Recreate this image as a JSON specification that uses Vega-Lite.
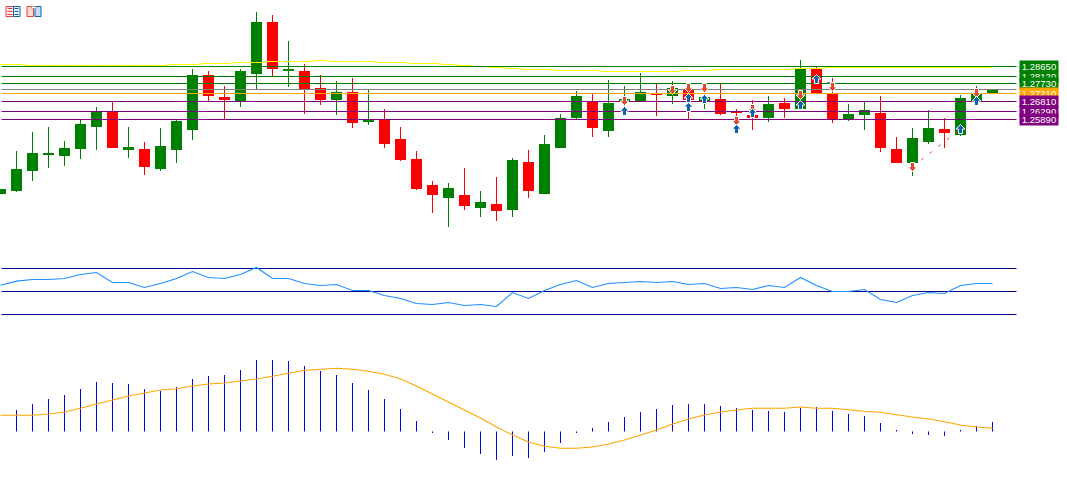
{
"$schema":"https://vega.github.io/schema/vega-lite/v6.json",
"padding":0,"background":"white","spacing":0,
"config":{"view":{"stroke":null},"concat":{"spacing":0}},
"datasets":{
"candles":[
{"n":0,"open":1.2202,"high":1.2228,"low":1.2202,"close":1.2228,"dir":"up","ma":1.28754},
{"n":1,"open":1.22176,"high":1.24256,"low":1.22124,"close":1.2332,"dir":"up","ma":1.28754},
{"n":2,"open":1.23216,"high":1.25244,"low":1.22696,"close":1.24152,"dir":"up","ma":1.28702},
{"n":3,"open":1.24048,"high":1.25504,"low":1.23372,"close":1.24152,"dir":"up","ma":1.28702},
{"n":4,"open":1.23996,"high":1.24776,"low":1.23476,"close":1.24412,"dir":"up","ma":1.28702},
{"n":5,"open":1.2436,"high":1.25868,"low":1.2384,"close":1.2566,"dir":"up","ma":1.28702},
{"n":6,"open":1.25504,"high":1.26544,"low":1.24308,"close":1.26284,"dir":"up","ma":1.28702},
{"n":7,"open":1.26284,"high":1.26856,"low":1.24412,"close":1.24412,"dir":"down","ma":1.28702},
{"n":8,"open":1.24308,"high":1.25504,"low":1.23892,"close":1.24464,"dir":"up","ma":1.28702},
{"n":9,"open":1.2436,"high":1.24724,"low":1.23008,"close":1.23424,"dir":"down","ma":1.28702},
{"n":10,"open":1.2332,"high":1.25452,"low":1.23216,"close":1.24516,"dir":"up","ma":1.28702},
{"n":11,"open":1.24308,"high":1.25868,"low":1.23632,"close":1.25816,"dir":"up","ma":1.28754},
{"n":12,"open":1.25348,"high":1.2852,"low":1.24828,"close":1.28208,"dir":"up","ma":1.28754},
{"n":13,"open":1.28208,"high":1.28416,"low":1.26856,"close":1.27116,"dir":"down","ma":1.28806},
{"n":14,"open":1.27064,"high":1.27636,"low":1.2592,"close":1.26908,"dir":"down","ma":1.28806},
{"n":15,"open":1.26856,"high":1.2852,"low":1.26544,"close":1.28416,"dir":"up","ma":1.28858},
{"n":16,"open":1.2826,"high":1.31484,"low":1.2748,"close":1.30964,"dir":"up","ma":1.28858},
{"n":17,"open":1.30964,"high":1.31328,"low":1.28156,"close":1.2852,"dir":"down","ma":1.2891},
{"n":18,"open":1.28416,"high":1.29976,"low":1.27584,"close":1.2852,"dir":"up","ma":1.2891},
{"n":19,"open":1.28416,"high":1.2878,"low":1.2618,"close":1.27428,"dir":"down","ma":1.2891},
{"n":20,"open":1.27532,"high":1.28208,"low":1.26648,"close":1.26908,"dir":"down","ma":1.28962},
{"n":21,"open":1.26908,"high":1.27896,"low":1.26128,"close":1.27324,"dir":"up","ma":1.2891},
{"n":22,"open":1.27324,"high":1.28052,"low":1.25452,"close":1.25712,"dir":"down","ma":1.2891},
{"n":23,"open":1.25764,"high":1.2748,"low":1.25608,"close":1.25868,"dir":"up","ma":1.2891},
{"n":24,"open":1.25868,"high":1.2644,"low":1.24412,"close":1.2462,"dir":"down","ma":1.28858},
{"n":25,"open":1.2488,"high":1.25504,"low":1.23736,"close":1.23788,"dir":"down","ma":1.28858},
{"n":26,"open":1.2384,"high":1.24256,"low":1.22228,"close":1.2228,"dir":"down","ma":1.28806},
{"n":27,"open":1.22488,"high":1.22696,"low":1.21032,"close":1.21968,"dir":"down","ma":1.28806},
{"n":28,"open":1.21812,"high":1.22592,"low":1.20304,"close":1.22332,"dir":"up","ma":1.28754},
{"n":29,"open":1.21968,"high":1.23372,"low":1.21188,"close":1.21396,"dir":"down","ma":1.28702},
{"n":30,"open":1.21292,"high":1.22176,"low":1.20824,"close":1.21604,"dir":"up","ma":1.2865},
{"n":31,"open":1.215,"high":1.22904,"low":1.20616,"close":1.21136,"dir":"down","ma":1.28598},
{"n":32,"open":1.21188,"high":1.23892,"low":1.20824,"close":1.23788,"dir":"up","ma":1.28546},
{"n":33,"open":1.23684,"high":1.24308,"low":1.21812,"close":1.22176,"dir":"down","ma":1.28494},
{"n":34,"open":1.2202,"high":1.25088,"low":1.2202,"close":1.2462,"dir":"up","ma":1.28494},
{"n":35,"open":1.24412,"high":1.2618,"low":1.24412,"close":1.25972,"dir":"up","ma":1.28442},
{"n":36,"open":1.25972,"high":1.27376,"low":1.2592,"close":1.27116,"dir":"up","ma":1.28442},
{"n":37,"open":1.26856,"high":1.2722,"low":1.24984,"close":1.25452,"dir":"down","ma":1.28442},
{"n":38,"open":1.25296,"high":1.27948,"low":1.24984,"close":1.26752,"dir":"up","ma":1.2839},
{"n":39,"open":1.26856,"high":1.27636,"low":1.26076,"close":1.2696,"dir":"up","ma":1.2839},
{"n":40,"open":1.26856,"high":1.28312,"low":1.26856,"close":1.27324,"dir":"up","ma":1.2839},
{"n":41,"open":1.2722,"high":1.2774,"low":1.26076,"close":1.27168,"dir":"down","ma":1.2839},
{"n":42,"open":1.27116,"high":1.27896,"low":1.267,"close":1.27532,"dir":"up","ma":1.2839},
{"n":43,"open":1.27428,"high":1.27688,"low":1.2592,"close":1.26908,"dir":"down","ma":1.28442},
{"n":44,"open":1.26856,"high":1.27792,"low":1.2644,"close":1.27064,"dir":"up","ma":1.28442},
{"n":45,"open":1.2696,"high":1.2774,"low":1.26128,"close":1.2618,"dir":"down","ma":1.28494},
{"n":46,"open":1.26336,"high":1.2644,"low":1.2566,"close":1.26232,"dir":"down","ma":1.28494},
{"n":47,"open":1.26128,"high":1.26908,"low":1.25348,"close":1.25972,"dir":"down","ma":1.28494},
{"n":48,"open":1.25972,"high":1.27116,"low":1.25764,"close":1.267,"dir":"up","ma":1.28494},
{"n":49,"open":1.26752,"high":1.27012,"low":1.25972,"close":1.2644,"dir":"down","ma":1.28494},
{"n":50,"open":1.2644,"high":1.28988,"low":1.2644,"close":1.2852,"dir":"up","ma":1.28546},
{"n":51,"open":1.2852,"high":1.28624,"low":1.27272,"close":1.27272,"dir":"down","ma":1.28546},
{"n":52,"open":1.2722,"high":1.28052,"low":1.25712,"close":1.2592,"dir":"down","ma":1.28598},
{"n":53,"open":1.2592,"high":1.267,"low":1.25816,"close":1.2618,"dir":"up","ma":1.28598},
{"n":54,"open":1.26128,"high":1.26804,"low":1.25348,"close":1.26388,"dir":"up","ma":1.28598},
{"n":55,"open":1.26232,"high":1.27116,"low":1.24204,"close":1.24412,"dir":"down","ma":1.28598},
{"n":56,"open":1.2436,"high":1.24984,"low":1.23632,"close":1.23632,"dir":"down","ma":1.28598},
{"n":57,"open":1.23632,"high":1.25452,"low":1.22956,"close":1.24932,"dir":"up","ma":1.28598},
{"n":58,"open":1.24724,"high":1.26388,"low":1.2462,"close":1.25452,"dir":"up","ma":1.28598},
{"n":59,"open":1.254,"high":1.25972,"low":1.24412,"close":1.25192,"dir":"down","ma":1.28598},
{"n":60,"open":1.25088,"high":1.27168,"low":1.25036,"close":1.27012,"dir":"up","ma":1.28598},
{"n":61,"open":1.26856,"high":1.27636,"low":1.26856,"close":1.27272,"dir":"up","ma":1.28598},
{"n":62,"open":1.27272,"high":1.2748,"low":1.27272,"close":1.2748,"dir":"up","ma":1.28598}
],
"levels":[
{"p":1.2865,"label":"1.28650","kind":"res"},
{"p":1.2813,"label":"1.28120","kind":"res"},
{"p":1.27766,"label":"1.27730","kind":"res"},
{"p":1.27454,"label":"","kind":"mid"},
{"p":1.27246,"label":"1.27210","kind":"pivot"},
{"p":1.2683,"label":"1.26810","kind":"sup"},
{"p":1.2631,"label":"1.26290","kind":"sup"},
{"p":1.25894,"label":"1.25890","kind":"sup"}
],
"signals":[
{"n":39,"p":1.26856,"side":"sell"},{"n":42,"p":1.27428,"side":"sell"},{"n":43,"p":1.27532,"side":"sell"},{"n":44,"p":1.27532,"side":"sell"},{"n":46,"p":1.25816,"side":"sell"},{"n":47,"p":1.2644,"side":"sell"},{"n":50,"p":1.27168,"side":"sell"},{"n":52,"p":1.27584,"side":"sell"},{"n":57,"p":1.23424,"side":"sell"},{"n":61,"p":1.27272,"side":"sell"},
{"n":39,"p":1.26336,"side":"buy"},{"n":43,"p":1.27012,"side":"buy"},{"n":43,"p":1.26544,"side":"buy"},{"n":44,"p":1.2696,"side":"buy"},{"n":46,"p":1.254,"side":"buy"},{"n":47,"p":1.26232,"side":"buy"},{"n":50,"p":1.26648,"side":"buy"},{"n":51,"p":1.28,"side":"buy"},{"n":60,"p":1.254,"side":"buy"},{"n":61,"p":1.26856,"side":"buy"}
],
"trend":[
{"n":57,"p":1.23424,"id":"sell"},{"n":60,"p":1.254,"id":"sell"},
{"n":51,"p":1.28,"id":"buy"},{"n":52,"p":1.2774,"id":"buy"}
],
"icons":[
{"n":0.344,"n2":0.8125,"p":1.31770,"p2":1.31250,"part":"red"},
{"n":0.8125,"n2":1.219,"p":1.31770,"p2":1.31250,"part":"blue"},
{"n":1.656,"n2":2.0625,"p":1.31770,"p2":1.31250,"part":"redfill"},
{"n":2.156,"n2":2.531,"p":1.31770,"p2":1.31250,"part":"bluefill"},
{"n":1.9375,"n2":2.22,"p":1.31770,"p2":1.31666,"part":"grey"}
],
"iconLines":[
{"n":0.4375,"n2":0.75,"p":1.31666,"side":"red"},{"n":0.4375,"n2":0.75,"p":1.31510,"side":"red"},{"n":0.4375,"n2":0.75,"p":1.31354,"side":"red"},
{"n":0.875,"n2":1.125,"p":1.31666,"side":"blue"},{"n":0.875,"n2":1.125,"p":1.31510,"side":"blue"},{"n":0.875,"n2":1.125,"p":1.31354,"side":"blue"}
],
"rsi":[
{"n":0,"v":55.5},{"n":1,"v":59.0},{"n":2,"v":60.4},{"n":3,"v":60.4},{"n":4,"v":61.3},{"n":5,"v":64.8},{"n":6,"v":66.5},{"n":7,"v":57.8},{"n":8,"v":57.8},{"n":9,"v":53.5},{"n":10,"v":57.0},{"n":11,"v":61.3},{"n":12,"v":67.4},{"n":13,"v":62.2},{"n":14,"v":61.3},{"n":15,"v":64.8},{"n":16,"v":70.9},{"n":17,"v":61.3},{"n":18,"v":61.3},{"n":19,"v":57.0},{"n":20,"v":55.2},{"n":21,"v":56.1},{"n":22,"v":50.9},{"n":23,"v":50.9},{"n":24,"v":46.5},{"n":25,"v":43.9},{"n":26,"v":39.6},{"n":27,"v":38.7},{"n":28,"v":40.4},{"n":29,"v":37.8},{"n":30,"v":38.7},{"n":31,"v":37.0},{"n":32,"v":49.1},{"n":33,"v":43.9},{"n":34,"v":50.9},{"n":35,"v":56.1},{"n":36,"v":59.6},{"n":37,"v":53.5},{"n":38,"v":57.0},{"n":39,"v":57.8},{"n":40,"v":58.7},{"n":41,"v":57.8},{"n":42,"v":58.7},{"n":43,"v":56.1},{"n":44,"v":57.0},{"n":45,"v":52.6},{"n":46,"v":53.5},{"n":47,"v":51.7},{"n":48,"v":55.2},{"n":49,"v":53.5},{"n":50,"v":62.2},{"n":51,"v":55.2},{"n":52,"v":50},{"n":53,"v":50},{"n":54,"v":51.7},{"n":55,"v":43.0},{"n":56,"v":40.4},{"n":57,"v":46.5},{"n":58,"v":49.1},{"n":59,"v":48.3},{"n":60,"v":55.2},{"n":61,"v":57.0},{"n":62,"v":57.0}
],
"rsiLevels":[{"v":70},{"v":50},{"v":30}],
"macd":[
{"n":1,"hist":0.00215},{"n":2,"hist":0.00275},{"n":3,"hist":0.00325},{"n":4,"hist":0.00365},{"n":5,"hist":0.00425},{"n":6,"hist":0.00495},{"n":7,"hist":0.00485},{"n":8,"hist":0.00475},{"n":9,"hist":0.00425},{"n":10,"hist":0.00405},{"n":11,"hist":0.00445},{"n":12,"hist":0.00525},{"n":13,"hist":0.00555},{"n":14,"hist":0.00565},{"n":15,"hist":0.00615},{"n":16,"hist":0.00715},{"n":17,"hist":0.00715},{"n":18,"hist":0.00705},{"n":19,"hist":0.00655},{"n":20,"hist":0.00605},{"n":21,"hist":0.00565},{"n":22,"hist":0.00485},{"n":23,"hist":0.00415},{"n":24,"hist":0.00325},{"n":25,"hist":0.00225},{"n":26,"hist":0.00105},{"n":27,"hist":-0.00015},{"n":28,"hist":-0.00085},{"n":29,"hist":-0.00165},{"n":30,"hist":-0.00225},{"n":31,"hist":-0.00285},{"n":32,"hist":-0.00245},{"n":33,"hist":-0.00265},{"n":34,"hist":-0.00205},{"n":35,"hist":-0.00115},{"n":36,"hist":-0.00015},{"n":37,"hist":0.00035},{"n":38,"hist":0.00095},{"n":39,"hist":0.00145},{"n":40,"hist":0.00195},{"n":41,"hist":0.00225},{"n":42,"hist":0.00265},{"n":43,"hist":0.00275},{"n":44,"hist":0.00275},{"n":45,"hist":0.00255},{"n":46,"hist":0.00235},{"n":47,"hist":0.00215},{"n":48,"hist":0.00205},{"n":49,"hist":0.00195},{"n":50,"hist":0.00235},{"n":51,"hist":0.00245},{"n":52,"hist":0.00205},{"n":53,"hist":0.00175},{"n":54,"hist":0.00155},{"n":55,"hist":0.00085},{"n":56,"hist":0.00015},{"n":57,"hist":-0.00025},{"n":58,"hist":-0.00035},{"n":59,"hist":-0.00045},{"n":60,"hist":0.00015},{"n":61,"hist":0.00055},{"n":62,"hist":0.00095}
],
"signalLine":[
{"n":0,"sig":0.00162},{"n":1,"sig":0.00162},{"n":2,"sig":0.00162},{"n":3,"sig":0.00175},{"n":4,"sig":0.00195},{"n":5,"sig":0.00232},{"n":6,"sig":0.00275},{"n":7,"sig":0.00315},{"n":8,"sig":0.00355},{"n":9,"sig":0.00385},{"n":10,"sig":0.00415},{"n":11,"sig":0.00428},{"n":12,"sig":0.00455},{"n":13,"sig":0.00475},{"n":14,"sig":0.00485},{"n":15,"sig":0.00505},{"n":16,"sig":0.00525},{"n":17,"sig":0.00552},{"n":18,"sig":0.00582},{"n":19,"sig":0.00612},{"n":20,"sig":0.00622},{"n":21,"sig":0.00632},{"n":22,"sig":0.00622},{"n":23,"sig":0.00602},{"n":24,"sig":0.00572},{"n":25,"sig":0.00525},{"n":26,"sig":0.00455},{"n":27,"sig":0.00375},{"n":28,"sig":0.00295},{"n":29,"sig":0.00215},{"n":30,"sig":0.00135},{"n":31,"sig":0.00045},{"n":32,"sig":-0.00035},{"n":33,"sig":-0.00105},{"n":34,"sig":-0.00148},{"n":35,"sig":-0.00168},{"n":36,"sig":-0.00168},{"n":37,"sig":-0.00155},{"n":38,"sig":-0.00125},{"n":39,"sig":-0.00085},{"n":40,"sig":-0.00035},{"n":41,"sig":0.00015},{"n":42,"sig":0.00075},{"n":43,"sig":0.00125},{"n":44,"sig":0.00165},{"n":45,"sig":0.00195},{"n":46,"sig":0.00215},{"n":47,"sig":0.00232},{"n":48,"sig":0.00232},{"n":49,"sig":0.00232},{"n":50,"sig":0.00245},{"n":51,"sig":0.00232},{"n":52,"sig":0.00232},{"n":53,"sig":0.00218},{"n":54,"sig":0.00202},{"n":55,"sig":0.00192},{"n":56,"sig":0.00168},{"n":57,"sig":0.00145},{"n":58,"sig":0.00125},{"n":59,"sig":0.00098},{"n":60,"sig":0.00065},{"n":61,"sig":0.00045},{"n":62,"sig":0.00032}
]
},
"vconcat":[
{"width":1067,"height":260,
 "resolve":{"scale":{"color":"independent"}},
 "encoding":{
  "y":{"field":"p","type":"quantitative","scale":{"domain":[1.18588,1.32108],"nice":false,"zero":false},"axis":null}
 },
 "layer":[
  {"data":{"name":"candles"},"mark":{"type":"rule","strokeWidth":1,"clip":true},
   "encoding":{"x":{"field":"n","type":"quantitative","scale":{"domain":[-0.03125,66.65625],"nice":false,"zero":false},"axis":null},"y":{"field":"high"},"y2":{"field":"low"},
    "color":{"field":"dir","type":"nominal","scale":{"domain":["up","down"],"range":["#008000","#FF0000"]},"legend":null}}},
  {"data":{"name":"candles"},"mark":{"type":"rule","strokeWidth":11,"clip":true},
   "encoding":{"x":{"field":"n","type":"quantitative","scale":{"domain":[-0.03125,66.65625],"nice":false,"zero":false},"axis":null},"y":{"field":"open"},"y2":{"field":"close"},
    "color":{"field":"dir","type":"nominal","scale":{"domain":["up","down"],"range":["#008000","#FF0000"]},"legend":null}}},
  {"data":{"name":"candles"},"mark":{"type":"line","color":"#FFFF00","strokeWidth":1,"interpolate":"step","clip":true},
   "encoding":{"x":{"field":"n","type":"quantitative","scale":{"domain":[-0.03125,66.65625],"nice":false,"zero":false},"axis":null},"y":{"field":"ma"}}},
  {"data":{"name":"levels"},"mark":{"type":"rule","strokeWidth":1,"clip":true},
   "encoding":{"x":{"datum":0.0625,"type":"quantitative","scale":{"domain":[-0.03125,66.65625],"nice":false,"zero":false},"axis":null},"x2":{"datum":63.5},
    "color":{"field":"kind","type":"nominal","scale":{"domain":["res","mid","pivot","sup"],"range":["#008000","#808080","#FFA500","#800080"]},"legend":null}}},
  {"data":{"name":"trend"},"mark":{"type":"line","strokeWidth":1,"strokeDash":[3,8]},
   "encoding":{"x":{"field":"n","type":"quantitative","scale":{"domain":[-0.03125,66.65625],"nice":false,"zero":false},"axis":null},"detail":{"field":"id"},"color":{"field":"id","type":"nominal","scale":{"domain":["sell","buy"],"range":["#E0492A","#1060B0"]},"legend":null}}},
  {"data":{"name":"signals"},"transform":[{"filter":"datum.side==='sell'"}],
   "mark":{"type":"point","filled":true,"opacity":1,"size":81,"fill":"#E0492A","stroke":"white","strokeWidth":1,"shape":"M0,1L1,0L0.45,0L0.45,-1L-0.45,-1L-0.45,0L-1,0Z"},
   "encoding":{"x":{"field":"n","type":"quantitative","scale":{"domain":[-0.03125,66.65625],"nice":false,"zero":false},"axis":null}}},
  {"data":{"name":"signals"},"transform":[{"filter":"datum.side==='buy'"}],
   "mark":{"type":"point","filled":true,"opacity":1,"size":81,"fill":"#1060B0","stroke":"white","strokeWidth":1,"shape":"M0,-1L1,0L0.45,0L0.45,1L-0.45,1L-0.45,0L-1,0Z"},
   "encoding":{"x":{"field":"n","type":"quantitative","scale":{"domain":[-0.03125,66.65625],"nice":false,"zero":false},"axis":null}}},
  {"data":{"name":"levels"},"transform":[{"filter":"datum.label==='1.28650'"}],"mark":{"type":"tick","orient":"horizontal","size":39,"thickness":12,"color":"#008000","opacity":1},"encoding":{"x":{"datum":64.906,"type":"quantitative","scale":{"domain":[-0.03125,66.65625],"nice":false,"zero":false},"axis":null}}},
  {"data":{"name":"levels"},"transform":[{"filter":"datum.label==='1.28650'"}],"mark":{"type":"text","font":"Liberation Sans","fontSize":9.5,"color":"white","align":"center","baseline":"middle"},"encoding":{"x":{"datum":64.906,"type":"quantitative","scale":{"domain":[-0.03125,66.65625],"nice":false,"zero":false},"axis":null},"text":{"field":"label"}}},
  {"data":{"name":"levels"},"transform":[{"filter":"datum.label==='1.28120'"}],"mark":{"type":"tick","orient":"horizontal","size":39,"thickness":12,"color":"#008000","opacity":1},"encoding":{"x":{"datum":64.906,"type":"quantitative","scale":{"domain":[-0.03125,66.65625],"nice":false,"zero":false},"axis":null}}},
  {"data":{"name":"levels"},"transform":[{"filter":"datum.label==='1.28120'"}],"mark":{"type":"text","font":"Liberation Sans","fontSize":9.5,"color":"white","align":"center","baseline":"middle"},"encoding":{"x":{"datum":64.906,"type":"quantitative","scale":{"domain":[-0.03125,66.65625],"nice":false,"zero":false},"axis":null},"text":{"field":"label"}}},
  {"data":{"name":"levels"},"transform":[{"filter":"datum.label==='1.27730'"}],"mark":{"type":"tick","orient":"horizontal","size":39,"thickness":12,"color":"#008000","opacity":1},"encoding":{"x":{"datum":64.906,"type":"quantitative","scale":{"domain":[-0.03125,66.65625],"nice":false,"zero":false},"axis":null}}},
  {"data":{"name":"levels"},"transform":[{"filter":"datum.label==='1.27730'"}],"mark":{"type":"text","font":"Liberation Sans","fontSize":9.5,"color":"white","align":"center","baseline":"middle"},"encoding":{"x":{"datum":64.906,"type":"quantitative","scale":{"domain":[-0.03125,66.65625],"nice":false,"zero":false},"axis":null},"text":{"field":"label"}}},
  {"data":{"name":"levels"},"transform":[{"filter":"datum.label==='1.27210'"}],"mark":{"type":"tick","orient":"horizontal","size":39,"thickness":12,"color":"#FFA500","opacity":1},"encoding":{"x":{"datum":64.906,"type":"quantitative","scale":{"domain":[-0.03125,66.65625],"nice":false,"zero":false},"axis":null}}},
  {"data":{"name":"levels"},"transform":[{"filter":"datum.label==='1.27210'"}],"mark":{"type":"text","font":"Liberation Sans","fontSize":9.5,"color":"white","align":"center","baseline":"middle"},"encoding":{"x":{"datum":64.906,"type":"quantitative","scale":{"domain":[-0.03125,66.65625],"nice":false,"zero":false},"axis":null},"text":{"field":"label"}}},
  {"data":{"name":"levels"},"transform":[{"filter":"datum.label==='1.26810'"}],"mark":{"type":"tick","orient":"horizontal","size":39,"thickness":12,"color":"#800080","opacity":1},"encoding":{"x":{"datum":64.906,"type":"quantitative","scale":{"domain":[-0.03125,66.65625],"nice":false,"zero":false},"axis":null}}},
  {"data":{"name":"levels"},"transform":[{"filter":"datum.label==='1.26810'"}],"mark":{"type":"text","font":"Liberation Sans","fontSize":9.5,"color":"white","align":"center","baseline":"middle"},"encoding":{"x":{"datum":64.906,"type":"quantitative","scale":{"domain":[-0.03125,66.65625],"nice":false,"zero":false},"axis":null},"text":{"field":"label"}}},
  {"data":{"name":"levels"},"transform":[{"filter":"datum.label==='1.26290'"}],"mark":{"type":"tick","orient":"horizontal","size":39,"thickness":12,"color":"#800080","opacity":1},"encoding":{"x":{"datum":64.906,"type":"quantitative","scale":{"domain":[-0.03125,66.65625],"nice":false,"zero":false},"axis":null}}},
  {"data":{"name":"levels"},"transform":[{"filter":"datum.label==='1.26290'"}],"mark":{"type":"text","font":"Liberation Sans","fontSize":9.5,"color":"white","align":"center","baseline":"middle"},"encoding":{"x":{"datum":64.906,"type":"quantitative","scale":{"domain":[-0.03125,66.65625],"nice":false,"zero":false},"axis":null},"text":{"field":"label"}}},
  {"data":{"name":"levels"},"transform":[{"filter":"datum.label==='1.25890'"}],"mark":{"type":"tick","orient":"horizontal","size":39,"thickness":12,"color":"#800080","opacity":1},"encoding":{"x":{"datum":64.906,"type":"quantitative","scale":{"domain":[-0.03125,66.65625],"nice":false,"zero":false},"axis":null}}},
  {"data":{"name":"levels"},"transform":[{"filter":"datum.label==='1.25890'"}],"mark":{"type":"text","font":"Liberation Sans","fontSize":9.5,"color":"white","align":"center","baseline":"middle"},"encoding":{"x":{"datum":64.906,"type":"quantitative","scale":{"domain":[-0.03125,66.65625],"nice":false,"zero":false},"axis":null},"text":{"field":"label"}}},
  {"data":{"name":"icons"},"mark":{"type":"rect","strokeWidth":1},
   "encoding":{"x":{"field":"n","type":"quantitative","scale":{"domain":[-0.03125,66.65625],"nice":false,"zero":false},"axis":null},"x2":{"field":"n2"},"y2":{"field":"p2"},
    "fill":{"field":"part","type":"nominal","scale":{"domain":["red","blue","redfill","bluefill","grey"],"range":["#FFF0EE","#E8F4FF","#FFD8D0","#BFE0F8","#FFFFFF"]},"legend":null},
    "stroke":{"field":"part","type":"nominal","scale":{"domain":["red","blue","redfill","bluefill","grey"],"range":["#E8403A","#1060B0","#E8403A","#1060B0","#A0A0A0"]},"legend":null}}},
  {"data":{"name":"iconLines"},"mark":{"type":"rule","strokeWidth":1},
   "encoding":{"x":{"field":"n","type":"quantitative","scale":{"domain":[-0.03125,66.65625],"nice":false,"zero":false},"axis":null},"x2":{"field":"n2"},"color":{"field":"side","type":"nominal","scale":{"domain":["red","blue"],"range":["#E8403A","#1060B0"]},"legend":null}}}
 ]},
{"width":1067,"height":80,
 "encoding":{
  "y":{"field":"v","type":"quantitative","scale":{"domain":[7.83,77.39],"nice":false,"zero":false},"axis":null}
 },
 "layer":[
  {"data":{"name":"rsiLevels"},"mark":{"type":"rule","color":"#00008B","strokeWidth":1,"clip":true},
   "encoding":{"x":{"datum":0.0625,"type":"quantitative","scale":{"domain":[-0.03125,66.65625],"nice":false,"zero":false},"axis":null},"x2":{"datum":63.5}}},
  {"data":{"name":"rsi"},"mark":{"type":"line","color":"#1E90FF","strokeWidth":1.1,"clip":true},
   "encoding":{"x":{"field":"n","type":"quantitative","scale":{"domain":[-0.03125,66.65625],"nice":false,"zero":false},"axis":null}}}
 ]},
{"width":1067,"height":148,
 "encoding":{
  "x":{"field":"n","type":"quantitative","scale":{"domain":[-0.03125,66.65625],"nice":false,"zero":false},"axis":null}
 },
 "layer":[
  {"data":{"name":"macd"},"mark":{"type":"rule","color":"#0000FF","strokeWidth":1,"clip":true},
   "encoding":{"y":{"field":"hist","type":"quantitative","scale":{"domain":[-0.00565,0.00915],"nice":false,"zero":false},"axis":null},"y2":{"datum":0}}},
  {"data":{"name":"signalLine"},"mark":{"type":"line","color":"#FFA500","strokeWidth":1.1,"clip":true},
   "encoding":{"y":{"field":"sig","type":"quantitative","scale":{"domain":[-0.00565,0.00915],"nice":false,"zero":false},"axis":null}}}
 ]}
]
}
